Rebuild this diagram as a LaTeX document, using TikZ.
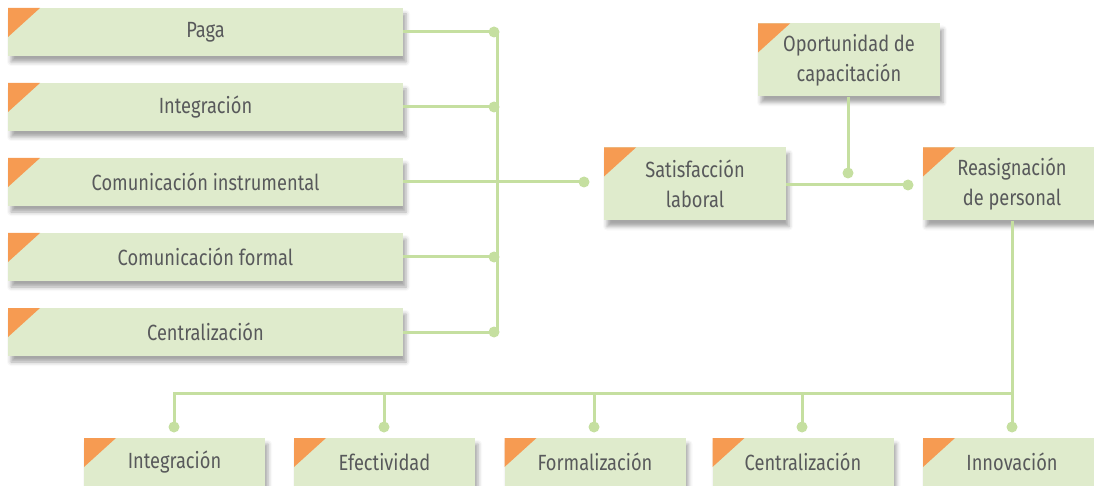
\documentclass[tikz,border=0pt]{standalone}
\usepackage{fontspec}
\setmainfont{Fira Sans}[FakeStretch=0.83]
\usepackage{xcolor}
\usetikzlibrary{shadows.blur}
\definecolor{boxcolor}{RGB}{223, 235, 204}
\definecolor{cornercolor}{RGB}{246, 155, 82}
\definecolor{linkcolor}{RGB}{197, 223, 160}
\definecolor{textcolor}{RGB}{88, 89, 91}

\tikzset{
    factor/.style={fill=boxcolor, minimum height=48pt, inner sep=0pt,
        text=textcolor, align=center, font=\fontsize{22}{30}\selectfont,
        blur shadow={shadow xshift=3pt, shadow yshift=-6pt, shadow blur radius=4pt,
            shadow opacity=35},
        path picture={\fill[cornercolor] (path picture bounding box.north west)
            -- ++(32pt,0) -- ++(-32pt,-29pt) -- cycle;}},
    joint/.style={circle, fill=linkcolor, minimum size=11pt, inner sep=0pt},
    link/.style={draw=linkcolor, line width=3pt}
}

\begin{document}
\begin{tikzpicture}[x=1pt, y=-1pt]
        \useasboundingbox (0,0) rectangle (1094,486);

        % Left column
        \node[factor, minimum width=395pt] (paga) at (205.5,32) {Paga};
        \node[factor, minimum width=395pt] (integ) at (205.5,107) {Integración};
        \node[factor, minimum width=395pt] (cominst) at (205.5,182) {Comunicación instrumental};
        \node[factor, minimum width=395pt] (comform) at (205.5,257) {Comunicación formal};
        \node[factor, minimum width=395pt] (central) at (205.5,332) {Centralización};

        % Middle boxes
        \node[factor, minimum width=182pt, minimum height=73pt] (satis) at (695,184) {Satisfacción\\laboral};
        \node[factor, minimum width=182pt, minimum height=73pt] (oport) at (849,60) {Oportunidad de\\capacitación};
        \node[factor, minimum width=178pt, minimum height=73pt] (reasig) at (1012,184) {Reasignación\\de personal};

        % Bottom row
        \node[factor, minimum width=181pt] (binteg) at (174.5,462) {Integración};
        \node[factor, minimum width=181pt] (befect) at (384.5,462) {Efectividad};
        \node[factor, minimum width=181pt] (bformal) at (595,462) {Formalización};
        \node[factor, minimum width=181pt] (bcentral) at (803,462) {Centralización};
        \node[factor, minimum width=178pt] (binnov) at (1012,462) {Innovación};

        % Left bus
        \coordinate (bustop) at (497,32);
        \coordinate (busbot) at (497,332);
        \draw[link] (bustop) -- (busbot);
        \node[joint] (j1) at (494,32) {};
        \node[joint] (j2) at (494,107) {};
        \node[joint] (j4) at (494,257) {};
        \node[joint] (j5) at (494,332) {};
        \draw[link] (paga.east) -- (j1.center);
        \draw[link] (integ.east) -- (j2.center);
        \draw[link] (comform.east) -- (j4.center);
        \draw[link] (central.east) -- (j5.center);

        % To satisfaction
        \node[joint] (jsatis) at (584,182) {};
        \draw[link] (cominst.east) -- (jsatis.center);

        % To reassignment
        \node[joint] (jreasig) at (908,185) {};
        \node[joint] (joport) at (848,173) {};
        \draw[link] (satis.east |- jreasig) -- (jreasig.center);
        \draw[link] (oport.south -| joport) -- (joport.center);

        % Bottom bus
        \node[joint] (k1) at (174,427) {};
        \node[joint] (k2) at (384,427) {};
        \node[joint] (k3) at (594,427) {};
        \node[joint] (k4) at (802,427) {};
        \node[joint] (k5) at (1012,427) {};
        \coordinate (busleft) at (174,393);
        \draw[link] (reasig.south) -- (k5.center);
        \draw[link] (reasig.south |- busleft) -- (busleft) -- (k1.center);
        \draw[link] (k2 |- busleft) -- (k2.center);
        \draw[link] (k3 |- busleft) -- (k3.center);
        \draw[link] (k4 |- busleft) -- (k4.center);
    \end{tikzpicture}
\end{document}
